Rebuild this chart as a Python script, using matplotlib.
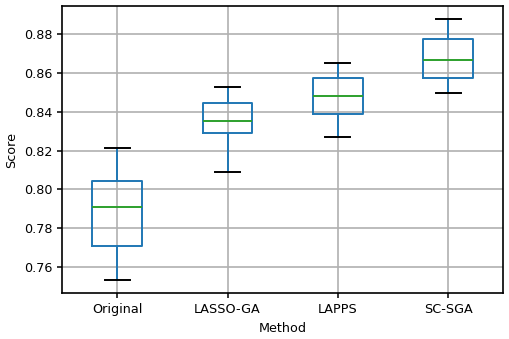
import matplotlib
matplotlib.use("Agg")
import matplotlib.pyplot as plt

# Box statistics
methods = ["Original", "LASSO-GA", "LAPPS", "SC-SGA"]
whislo = [0.7533, 0.8092, 0.8272, 0.8496]
q1 = [0.7710, 0.8291, 0.8387, 0.8576]
med = [0.7908, 0.8353, 0.8482, 0.8667]
q3 = [0.8043, 0.8444, 0.8572, 0.8777]
whishi = [0.8215, 0.8529, 0.8650, 0.8877]

stats = []
for i, name in enumerate(methods):
    stats.append({"label": name, "whislo": whislo[i], "q1": q1[i], "med": med[i],
                  "q3": q3[i], "whishi": whishi[i], "fliers": []})

plt.rcParams["font.size"] = 9.2
plt.rcParams["axes.linewidth"] = 1.2
plt.rcParams["xtick.major.width"] = 1.1
plt.rcParams["ytick.major.width"] = 1.1

fig = plt.figure(figsize=(5.10, 3.39), dpi=100)
ax = fig.add_axes([0.1216, 0.135, 0.8654, 0.8473])

lw = 1.4
ax.bxp(stats, showfliers=False, widths=0.45,
       boxprops=dict(color="#1f77b4", linewidth=lw),
       whiskerprops=dict(color="#1f77b4", linewidth=lw),
       medianprops=dict(color="#2ca02c", linewidth=lw),
       capprops=dict(color="k", linewidth=lw))

ax.grid(True, linewidth=1.2, color="#b0b0b0")
ax.set_axisbelow(True)
ax.set_xlim(0.5, 4.5)
ax.set_ylim(0.7464, 0.8946)
ax.set_yticks([0.76, 0.78, 0.80, 0.82, 0.84, 0.86, 0.88])
ax.set_yticklabels(["0.76", "0.78", "0.80", "0.82", "0.84", "0.86", "0.88"])
ax.set_xlabel("Method")
ax.set_ylabel("Score")

fig.savefig("out.png", dpi=100)
